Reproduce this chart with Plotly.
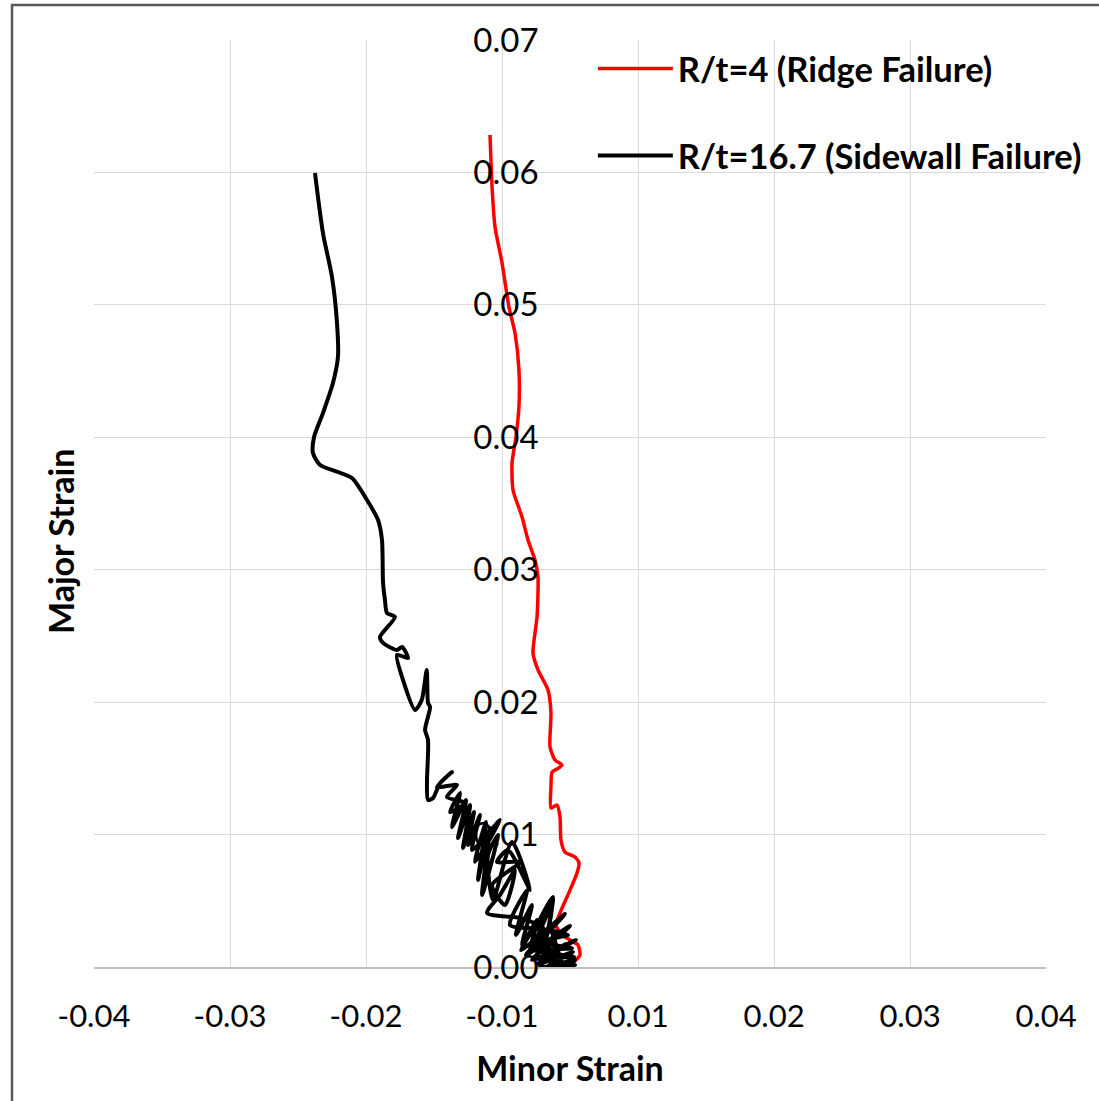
import plotly.graph_objects as go

# ---- data ----
red_x = [0.0, 0.00034, 0.00084, 0.00067, 0.0, -0.00067, -0.00118, -0.00084, 0.0, 0.00059,
         0.00076, 0.00042, -0.00042, -0.00076, -0.00084, -0.00109, -0.00160, -0.00160, -0.00151,
         -0.00109, -0.00067, -0.00126, -0.00168, -0.00160, -0.00185, -0.00269, -0.00311, -0.00277,
         -0.00269, -0.00294, -0.00353, -0.00403, -0.00479, -0.00487, -0.00454, -0.00429, -0.00429,
         -0.00462, -0.00513, -0.00571, -0.00630, -0.00655, -0.00672]
red_y = [0.0, 0.00038, 0.00091, 0.00166, 0.00204, 0.00242, 0.00317, 0.00408, 0.00581, 0.00710,
         0.00785, 0.00831, 0.00868, 0.00959, 0.01133, 0.01223, 0.01201, 0.01359, 0.01472,
         0.01495, 0.01525, 0.01563, 0.01661, 0.01918, 0.02092, 0.02243, 0.02371, 0.02643,
         0.02945, 0.03073, 0.03224, 0.03398, 0.03602, 0.03806, 0.04002, 0.04229, 0.04508,
         0.04787, 0.04984, 0.05316, 0.05588, 0.05890, 0.06283]

black_x = [
    0.0, -0.00252, 0.00042, -0.00294, 0.00034, -0.00311, 0.00017, -0.00269, -0.00017, -0.00252,
    -0.00084, -0.00168, -0.00042,
    0.00042, -0.00185, 0.00025, -0.00269, -0.00034, -0.00210, 0.00050, -0.00319, -0.00076,
    -0.00235, 0.0, -0.00370, -0.00118, -0.00286, -0.00042, -0.00412, -0.00151, -0.00202, -0.00143,
    -0.00319, -0.00185, -0.00336, -0.00277, -0.00403, -0.00319, -0.00454, -0.00361, -0.00504, -0.00227,
    -0.00420, -0.00697, -0.00588, -0.00462, -0.00546, -0.00655, -0.00420, -0.00613, -0.00521, -0.00336,
    -0.00487, -0.00647, -0.00689, -0.00605, -0.00739, -0.00672, -0.00773, -0.00706, -0.00798, -0.00588,
    -0.00823, -0.00756, -0.00857, -0.00807, -0.00899, -0.00840, -0.00941, -0.00874, -0.00992, -0.00924,
    -0.01008, -0.00882, -0.01034, -0.00950, -0.01118, -0.00992, -0.01092, -0.01151, -0.01193, -0.01202,
    -0.01193, -0.01218, -0.01176, -0.01193, -0.01204, -0.01246, -0.01302, -0.01403, -0.01454, -0.01361,
    -0.01412, -0.01454, -0.01571, -0.01597, -0.01471, -0.01538, -0.01555, -0.01571, -0.01580, -0.01613,
    -0.01706, -0.01832, -0.01950, -0.02101, -0.02160, -0.02151, -0.02076, -0.01992, -0.01950, -0.01958,
    -0.02000, -0.02076, -0.02143]
black_y = [
    0.0, 0.0, 0.00015, 0.00068, 0.00076, 0.00128, 0.00143, 0.00189, 0.00242, 0.00279,
    0.00038, 0.00317, 0.00008,
    0.00053, 0.00008, 0.00113, 0.00023, 0.00174, 0.00076, 0.00204, 0.00053, 0.00257,
    0.00128, 0.00310, 0.00091, 0.00325, 0.00166, 0.00400, 0.00128, 0.00468, 0.00204, 0.00529,
    0.00242, 0.00415, 0.00128, 0.00355, 0.00166, 0.00468, 0.00242, 0.00581, 0.00317, 0.00302,
    0.00370, 0.00408, 0.00544, 0.00732, 0.00468, 0.00619, 0.00793, 0.00793, 0.00883, 0.00581,
    0.00944, 0.00506, 0.00846, 0.00997, 0.00544, 0.01050, 0.00657, 0.01095, 0.00793, 0.01110,
    0.00883, 0.01148, 0.00921, 0.01170, 0.00899, 0.01223, 0.00974, 0.01261, 0.01057, 0.01314,
    0.01170, 0.01238, 0.01284, 0.01374, 0.01359, 0.01472, 0.01389, 0.01276, 0.01261, 0.01389,
    0.01714, 0.01790, 0.01963, 0.01993, 0.02243, 0.02016, 0.01941, 0.02167, 0.02356, 0.02333,
    0.02416, 0.02394, 0.02447, 0.02492, 0.02643, 0.02673, 0.02771, 0.02900, 0.03224, 0.03375,
    0.03526, 0.03692, 0.03738, 0.03791, 0.03881, 0.04002, 0.04183, 0.04410, 0.04606, 0.04863,
    0.05210, 0.05542, 0.05995]

series_names = ["R/t=4 (Ridge Failure)", "R/t=16.7 (Sidewall Failure)"]
x_tick_labels = ["-0.04", "-0.03", "-0.02", "-0.01", "0.01", "0.02", "0.03", "0.04"]
y_tick_values = [0.0, 0.01, 0.02, 0.03, 0.04, 0.05, 0.06, 0.07]
y_tick_labels = ["0.00", "0.01", "0.02", "0.03", "0.04", "0.05", "0.06", "0.07"]
x_range = [-0.04, 0.04]
y_range = [0.0, 0.07]

# gridlines in the reference are evenly spread over the axis (7 intervals, 8 labels)
n = len(x_tick_labels)
x_tick_vals = [x_range[0] + k * (x_range[1] - x_range[0]) / (n - 1) for k in range(n)]

FONT = "Lato"
GRID = "#d9d9d9"

fig = go.Figure()
fig.add_trace(go.Scatter(
    x=red_x, y=red_y, mode="lines", name=series_names[0], legendgroup="a",
    line=dict(color="#ff0000", width=3.5, shape="spline", smoothing=0.6)))
fig.add_trace(go.Scatter(
    x=black_x, y=black_y, mode="lines", name=series_names[1], legendgroup="b",
    line=dict(color="#000000", width=4, shape="spline", smoothing=0.7)))

fig.update_layout(
    width=1099, height=1101,
    paper_bgcolor="white", plot_bgcolor="white",
    margin=dict(l=94, r=53, t=40, b=134),
    font=dict(family=FONT, color="#000000"),
    showlegend=True,
    legend=dict(x=0.524, y=1.0004, xanchor="left", yanchor="top",
                bgcolor="rgba(0,0,0,0)", tracegroupgap=39, itemwidth=75,
                font=dict(family=FONT, size=34.5, color="#000000", weight="bold")),
    xaxis=dict(range=x_range, tickvals=x_tick_vals, ticktext=x_tick_labels,
               showgrid=True, gridcolor=GRID, gridwidth=1, zeroline=False,
               showline=True, linecolor="#bfbfbf", linewidth=2,
               ticks="outside", ticklen=21, tickcolor="rgba(0,0,0,0)",
               tickfont=dict(family=FONT, size=31, color="#000000"),
               title=dict(text="Minor Strain", standoff=24,
                          font=dict(family=FONT, size=34, color="#000000", weight="bold"))),
    yaxis=dict(range=y_range, tickvals=y_tick_values, ticktext=y_tick_labels,
               anchor="free", position=0.467,
               showgrid=True, gridcolor=GRID, gridwidth=1, zeroline=False,
               showline=False, ticks="",
               tickfont=dict(family=FONT, size=33, color="#000000")),
    annotations=[dict(text="Major Strain", xref="paper", yref="paper",
                      x=(60 - 94) / 952, y=(967 - 542) / 927, textangle=-90,
                      showarrow=False, xanchor="center", yanchor="middle",
                      font=dict(family=FONT, size=34, color="#000000", weight="bold"))],
    shapes=[dict(type="rect", xref="paper", yref="paper",
                 x0=(12 - 94) / 952, x1=1.2, y0=-0.3, y1=(967 - 5) / 927,
                 line=dict(color="#595959", width=2.5), fillcolor="rgba(0,0,0,0)", layer="below")],
)

fig.write_html("out.html", config={"displayModeBar": False},
               post_script="document.body.style.margin='0';")
